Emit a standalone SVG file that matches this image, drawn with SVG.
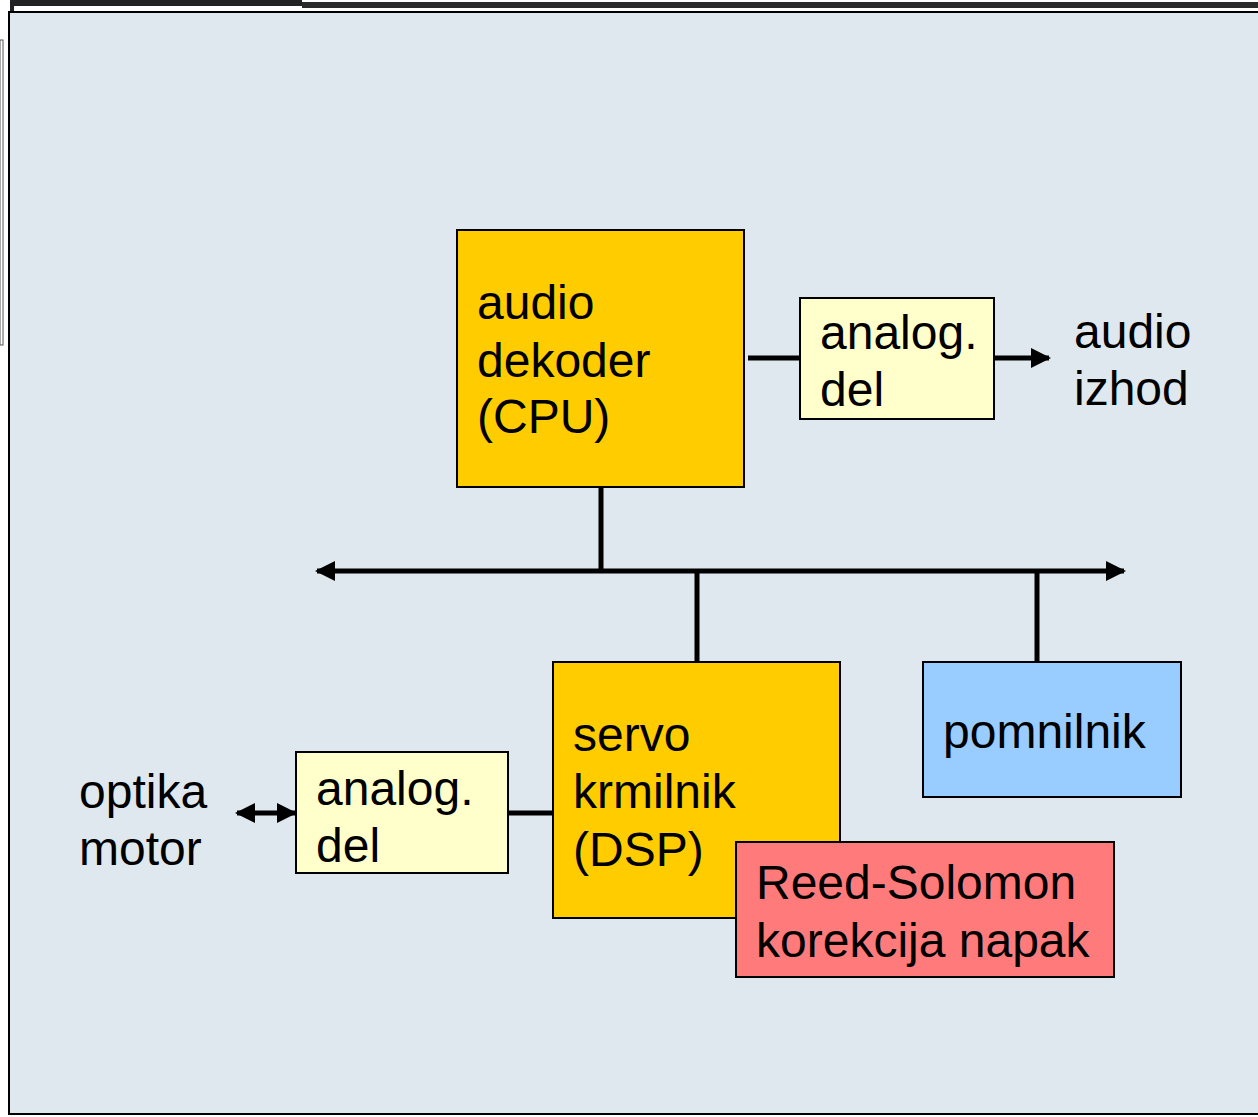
<svg xmlns="http://www.w3.org/2000/svg" width="1258" height="1117" viewBox="0 0 1258 1117">
<style>
  .box { stroke: #000; stroke-width: 2; }
  .t { font-family: "Liberation Sans", Arial, sans-serif; font-size: 48px; fill: #000; }
  .wire { stroke: #000; stroke-width: 5; fill: none; }
</style>
<defs>
  <marker id="ah" viewBox="0 0 10 10" refX="9" refY="5" markerWidth="4.2" markerHeight="4" orient="auto-start-reverse" markerUnits="strokeWidth">
    <path d="M0,0 L10,5 L0,10 Z" fill="#000"/>
  </marker>
</defs>
<rect width="1258" height="1117" fill="#ffffff"/>
<!-- frame artifacts -->
<rect x="10" y="0" width="292" height="6" fill="#222"/>
<rect x="302" y="2" width="956" height="6" fill="#2a2a2a"/>
<rect x="10" y="0" width="4" height="12" fill="#222"/>
<rect x="0" y="40" width="3" height="305" fill="#fff" stroke="#555" stroke-width="1"/>
<!-- panel -->
<rect x="9" y="12" width="1260" height="1102" fill="#dfe8ee" stroke="#000" stroke-width="2"/>

<g id="connectors">
  <line class="wire" x1="748" y1="358" x2="800" y2="358"/>
  <line class="wire" x1="994" y1="358" x2="1049" y2="358" marker-end="url(#ah)"/>
  <line class="wire" x1="601" y1="487" x2="601" y2="571"/>
  <line class="wire" x1="317" y1="571" x2="1124" y2="571" marker-start="url(#ah)" marker-end="url(#ah)"/>
  <line class="wire" x1="697" y1="571" x2="697" y2="662"/>
  <line class="wire" x1="1037" y1="571" x2="1037" y2="662"/>
  <line class="wire" x1="508" y1="813" x2="553" y2="813"/>
  <line class="wire" x1="237" y1="813" x2="295" y2="813" marker-start="url(#ah)" marker-end="url(#ah)"/>
</g>

<g id="cpu">
  <rect class="box" x="457" y="230" width="287" height="257" fill="#ffcc00"/>
  <text class="t" x="477" y="319">audio</text>
  <text class="t" x="477" y="377">dekoder</text>
  <text class="t" x="477" y="433">(CPU)</text>
</g>

<g id="analog-top">
  <rect class="box" x="800" y="298" width="194" height="121" fill="#ffffcc"/>
  <text class="t" x="820" y="349">analog.</text>
  <text class="t" x="820" y="406">del</text>
</g>

<g id="audio-izhod">
  <text class="t" x="1074" y="348">audio</text>
  <text class="t" x="1074" y="405">izhod</text>
</g>

<g id="dsp">
  <rect class="box" x="553" y="662" width="287" height="256" fill="#ffcc00"/>
  <text class="t" x="573" y="751">servo</text>
  <text class="t" x="573" y="808">krmilnik</text>
  <text class="t" x="573" y="866">(DSP)</text>
</g>

<g id="pomnilnik">
  <rect class="box" x="923" y="662" width="258" height="135" fill="#99ccff"/>
  <text class="t" x="943" y="748">pomnilnik</text>
</g>

<g id="reed-solomon">
  <rect class="box" x="736" y="842" width="378" height="135" fill="#ff7b7b"/>
  <text class="t" x="756" y="899">Reed-Solomon</text>
  <text class="t" x="756" y="957">korekcija napak</text>
</g>

<g id="analog-bottom">
  <rect class="box" x="296" y="752" width="212" height="121" fill="#ffffcc"/>
  <text class="t" x="316" y="805">analog.</text>
  <text class="t" x="316" y="862">del</text>
</g>

<g id="optika-motor">
  <text class="t" x="79" y="808">optika</text>
  <text class="t" x="79" y="865">motor</text>
</g>
</svg>
